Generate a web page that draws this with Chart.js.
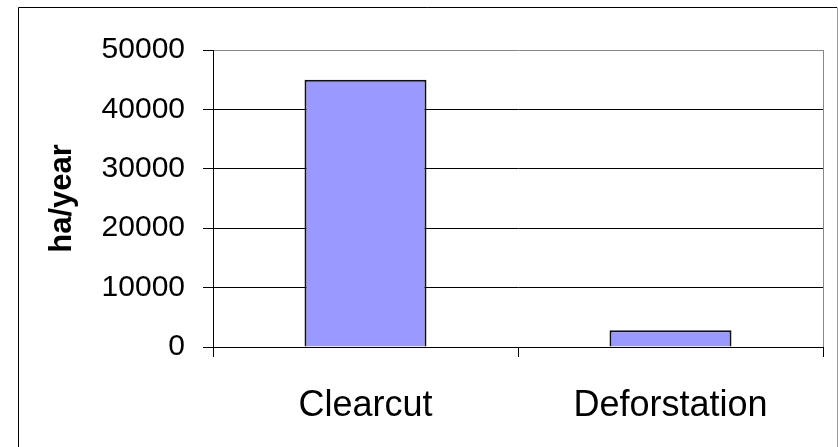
<!DOCTYPE html>
<html>
<head>
<meta charset="utf-8">
<script src="https://cdn.jsdelivr.net/npm/chart.js@4"></script>
<style>
    html, body { margin: 0; padding: 0; background: #fff; }
    #chart { display: block; }
</style>
</head>
<body>
<canvas id="chart" width="838" height="447"></canvas>
<script>
// chart data
const categories = ["Clearcut", "Deforstation"];
const haPerYear = [45000, 2800];
const yMin = 0;
const yMax = 50000;
const yStep = 10000;

const FONT = "'Liberation Sans', Arial, sans-serif";

// white page + outer frame like the office chart box
const frame = {
    id: "frame",
    beforeDraw(chart) {
        const c = chart.ctx;
        c.save();
        c.fillStyle = "#fff";
        c.fillRect(0, 0, chart.width, chart.height);
        c.lineWidth = 1;
        c.strokeStyle = "#000";
        c.beginPath();
        c.moveTo(18.5, chart.height);
        c.lineTo(18.5, 7.5);
        c.lineTo(837, 7.5);
        c.stroke();
        c.strokeStyle = "#999";
        c.beginPath();
        c.moveTo(837.5, 7.5);
        c.lineTo(837.5, chart.height);
        c.stroke();
        c.restore();
    },
};

const canvas = document.getElementById("chart");
new Chart(canvas.getContext("2d"), {
    type: "bar",
    data: {
        labels: categories,
        datasets: [
            {
                label: "ha/year",
                data: haPerYear,
                backgroundColor: "#9999FF",
                borderColor: "#111",
                borderWidth: 2,
                barPercentage: 0.4,
                categoryPercentage: 1.0,
            },
        ],
    },
    options: {
        responsive: false,
        animation: false,
        layout: { padding: { top: 50, right: 15, left: 0, bottom: 0 } },
        plugins: {
            legend: { display: false },
            tooltip: { enabled: false },
        },
        scales: {
            x: {
                grid: {
                    color: (ctx) => (ctx.type === "tick" ? "rgba(0,0,0,0)" : "#888"),
                    tickColor: "#000",
                    tickLength: 10,
                    lineWidth: 1,
                },
                border: { color: "#000", width: 1 },
                ticks: {
                    color: "#000",
                    font: { family: FONT, size: 36 },
                    padding: 27,
                },
                afterFit(scale) {
                    scale.height = 100;
                },
            },
            y: {
                min: yMin,
                max: yMax,
                grid: {
                    color: (ctx) => (ctx.tick && ctx.tick.value === yMax ? "#888" : "#000"),
                    tickColor: "#000",
                    tickLength: 10,
                    lineWidth: 1,
                },
                border: { color: "#000", width: 1 },
                ticks: {
                    stepSize: yStep,
                    color: "#000",
                    font: { family: FONT, size: 30 },
                    padding: 18,
                    callback: (v) => String(v),
                },
                title: {
                    display: true,
                    text: "ha/year",
                    color: "#000",
                    font: { family: FONT, size: 31, weight: "bold" },
                    padding: { top: 44, bottom: 0 },
                },
                afterFit(scale) {
                    scale.width = 213;
                },
            },
        },
    },
    plugins: [frame],
});
</script>
</body>
</html>
